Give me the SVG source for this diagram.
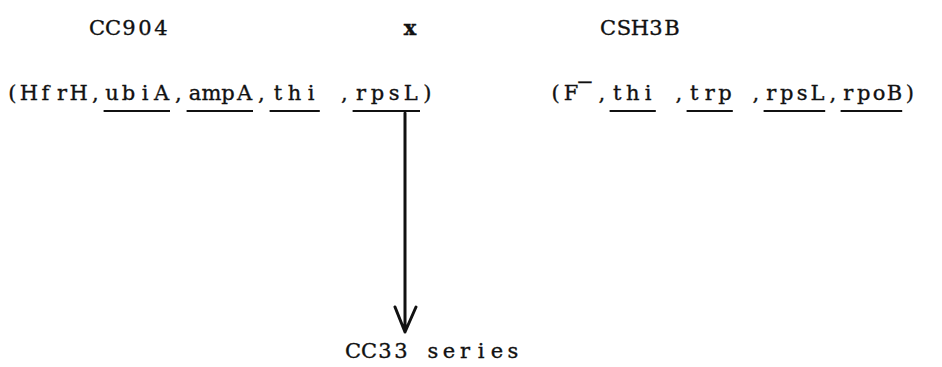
<svg xmlns="http://www.w3.org/2000/svg" width="942" height="367" viewBox="0 0 942 367">
<defs>
<style>
text{font-family:"DejaVu Serif","Liberation Serif",serif;font-size:21px;fill:#111;stroke:#111;stroke-width:0.35px;text-anchor:middle}
.u{stroke:#111;stroke-width:2;fill:none}
.c{stroke:#111;stroke-width:3;fill:none;stroke-linecap:round;stroke-linejoin:round}
</style>
</defs>
<rect width="942" height="367" fill="#fff"/>
<g id="cc904">
<text y="35" x="97 113 129 145 161">CC904</text>
<text y="100" xml:space="preserve" x="12.3 28.9 45.5 62.1 78.7 95.3 111.9 128.5 145.1 161.7 178.3 194.9 211.5 228.1 244.7 261.3 277.9 294.5 311.1 327.7 344.3 360.9 377.5 394.1 410.7 427.3">(HfrH,ubiA,ampA,thi ,rpsL)</text>
<path class="u" d="M103.6 111H170M186.6 111H253M269.6 111H319.8M352.6 111H420"/>
</g>
<g id="cross">
<text x="410" y="35" font-weight="bold">x</text>
</g>
<g id="csh3b">
<text y="35" x="608 624 640 656 672">CSH3B</text>
<text y="100" x="555.7 571.1">(F</text>
<text y="89" x="585" font-size="16">−</text>
<text y="100" xml:space="preserve" x="601.9 617.3 632.7 648.1 663.5 678.9 694.3 709.7 725.1 740.5 755.9 771.3 786.7 802.1 817.5 832.9 848.3 863.7 879.1 894.5 909.9">,thi ,trp ,rpsL,rpoB)</text>
<path class="u" d="M609.6 111H655.8M686.6 111H732.8M763.6 111H825.2M840.6 111H902.2"/>
</g>
<g id="cc33">
<text y="358" xml:space="preserve" x="353 369 385 401 417 433 449 465 481 497 513">CC33 series</text>
</g>
<g id="connectors">
<path class="c" d="M405 113V332M395 307L405 332L416 307"/>
</g>
</svg>
